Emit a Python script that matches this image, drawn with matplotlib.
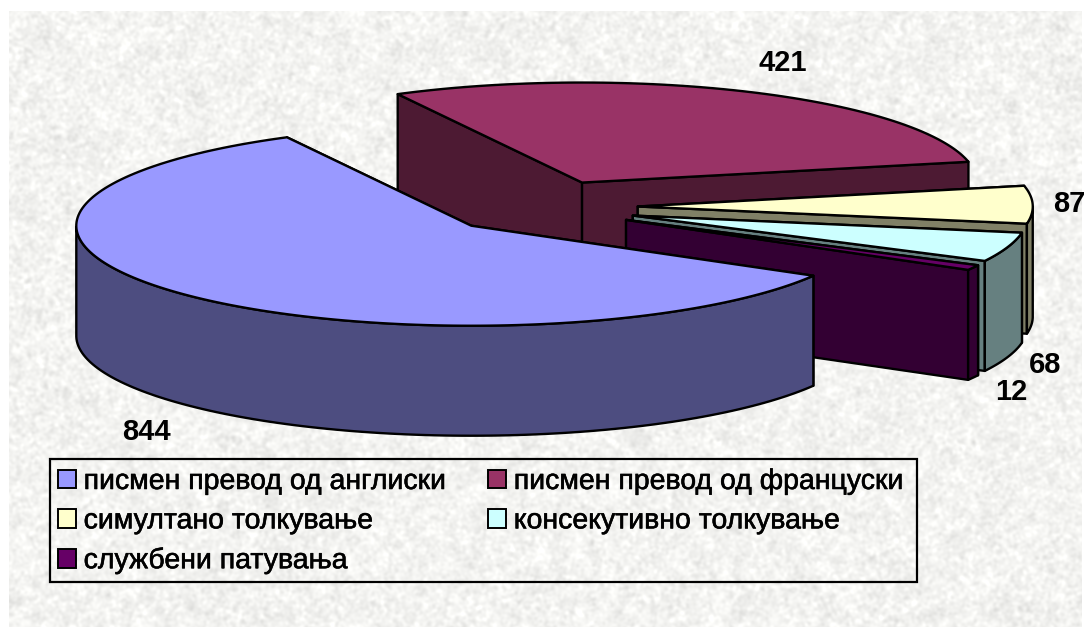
import numpy as np
from matplotlib import pyplot as plt
from matplotlib import patheffects
from matplotlib.patches import Patch, Polygon, Rectangle

categories = [
    "писмен превод од англиски",
    "писмен превод од француски",
    "симултано толкување",
    "консекутивно толкување",
    "службени патувања",
]
values = [844, 421, 87, 68, 12]
top_colors = ["#9999FF", "#993366", "#FFFFCC", "#CCFFFF", "#660066"]
side_colors = ["#4D4D80", "#4D1A33", "#808066", "#668080", "#330033"]

# pie geometry, in pixels
CX, CY = 541, 207
RX, RY = 395, 100
DEPTH = 110
EXPLODE_X, EXPLODE_Y = 0.245, 0.27
START = 330.0
LW = 1.7

label_pos = [(146, 432), (783, 63), (1069, 204), (1045, 365), (1011, 392)]

plt.rcParams["font.family"] = ["Liberation Sans", "DejaVu Sans"]

fig = plt.figure(figsize=(10.86, 6.28), dpi=100)
ax = fig.add_axes([0, 0, 1, 1])


def blur(img, sigma):
    fy = np.fft.fftfreq(img.shape[0])[:, None]
    fx = np.fft.fftfreq(img.shape[1])[None, :]
    kernel = np.exp(-2 * (np.pi * sigma) ** 2 * (fx ** 2 + fy ** 2))
    return np.fft.ifft2(np.fft.fft2(img) * kernel).real


def paper_texture(h, w):
    # speckled paper backdrop, decoration only
    rng = np.random.default_rng(4)
    fine = blur(rng.normal(size=(h, w)), 1.5)
    coarse = blur(rng.normal(size=(h, w)), 5.0)
    fine /= fine.std()
    coarse /= coarse.std()
    grey = 0.955 + 0.02 * fine + 0.008 * coarse
    return np.clip(np.dstack([grey, grey, grey * 0.99]), 0, 1)


def ring(cx, cy, t):
    t = np.radians(t)
    return np.column_stack([cx + RX * np.cos(t), cy - RY * np.sin(t)])


def draw_slice(t_from, t_to, top, side, z):
    # t_from > t_to, angles run clockwise
    mid = np.radians((t_from + t_to) / 2)
    cx = CX + EXPLODE_X * RX * np.cos(mid)
    cy = CY - EXPLODE_Y * RY * np.sin(mid)
    style = dict(edgecolor="black", linewidth=LW, joinstyle="round", zorder=z)
    down = np.array([0, DEPTH])

    # cut faces, the one further back first
    faces = []
    for t in (t_from, t_to):
        p = ring(cx, cy, [t])[0]
        faces.append((p[1], p))
    faces.sort(key=lambda f: f[0])
    apex = np.array([cx, cy])
    for _, p in faces:
        ax.add_patch(Polygon([apex, p, p + down, apex + down], facecolor=side, **style))

    # outer rim, only the front half of the ellipse shows
    ts = np.linspace(t_from, t_to, 160)
    front = ts[(ts % 360) >= 180]
    if len(front) > 1:
        arc = ring(cx, cy, front)
        ax.add_patch(Polygon(np.vstack([arc, arc[::-1] + down]), facecolor=side, **style))

    arc = ring(cx, cy, ts)
    ax.add_patch(Polygon(np.vstack([apex, arc]), facecolor=top, **style))


ax.imshow(paper_texture(616, 1073), extent=(9, 1082, 627, 11), aspect="auto", zorder=0)
ax.set_xlim(0, 1086)
ax.set_ylim(628, 0)
ax.axis("off")

sweeps = np.array(values) / sum(values) * 360
ends = START - np.cumsum(sweeps)
starts = ends + sweeps

# back slices first, the big front slice last
for z, i in enumerate([1, 2, 3, 4, 0]):
    draw_slice(starts[i], ends[i], top_colors[i], side_colors[i], 2 + z)

for v, (x, y) in zip(values, label_pos):
    ax.text(x, y, str(v), fontsize=21, fontweight="bold", ha="center", va="center", zorder=10)

ax.add_patch(Rectangle((50, 459), 867, 123, fill=False, edgecolor="black", linewidth=1.6, zorder=9))

handles = [Patch(facecolor=c, edgecolor="black", linewidth=1.4) for c in top_colors]
order = [0, 2, 4, 1, 3]
leg = ax.legend(
    [handles[i] for i in order],
    [categories[i] for i in order],
    ncols=2,
    loc="upper left",
    bbox_to_anchor=(58, 469),
    bbox_transform=ax.transData,
    borderaxespad=0,
    borderpad=0,
    prop={"size": 20.5},
    handlelength=0.63,
    handleheight=0.63,
    handletextpad=0.27,
    columnspacing=1.45,
    labelspacing=0.47,
    frameon=False,
)
leg.set_zorder(10)
for t in leg.get_texts():
    t.set_path_effects([patheffects.withStroke(linewidth=0.4, foreground="black")])

plt.savefig("out.png", dpi=100)
